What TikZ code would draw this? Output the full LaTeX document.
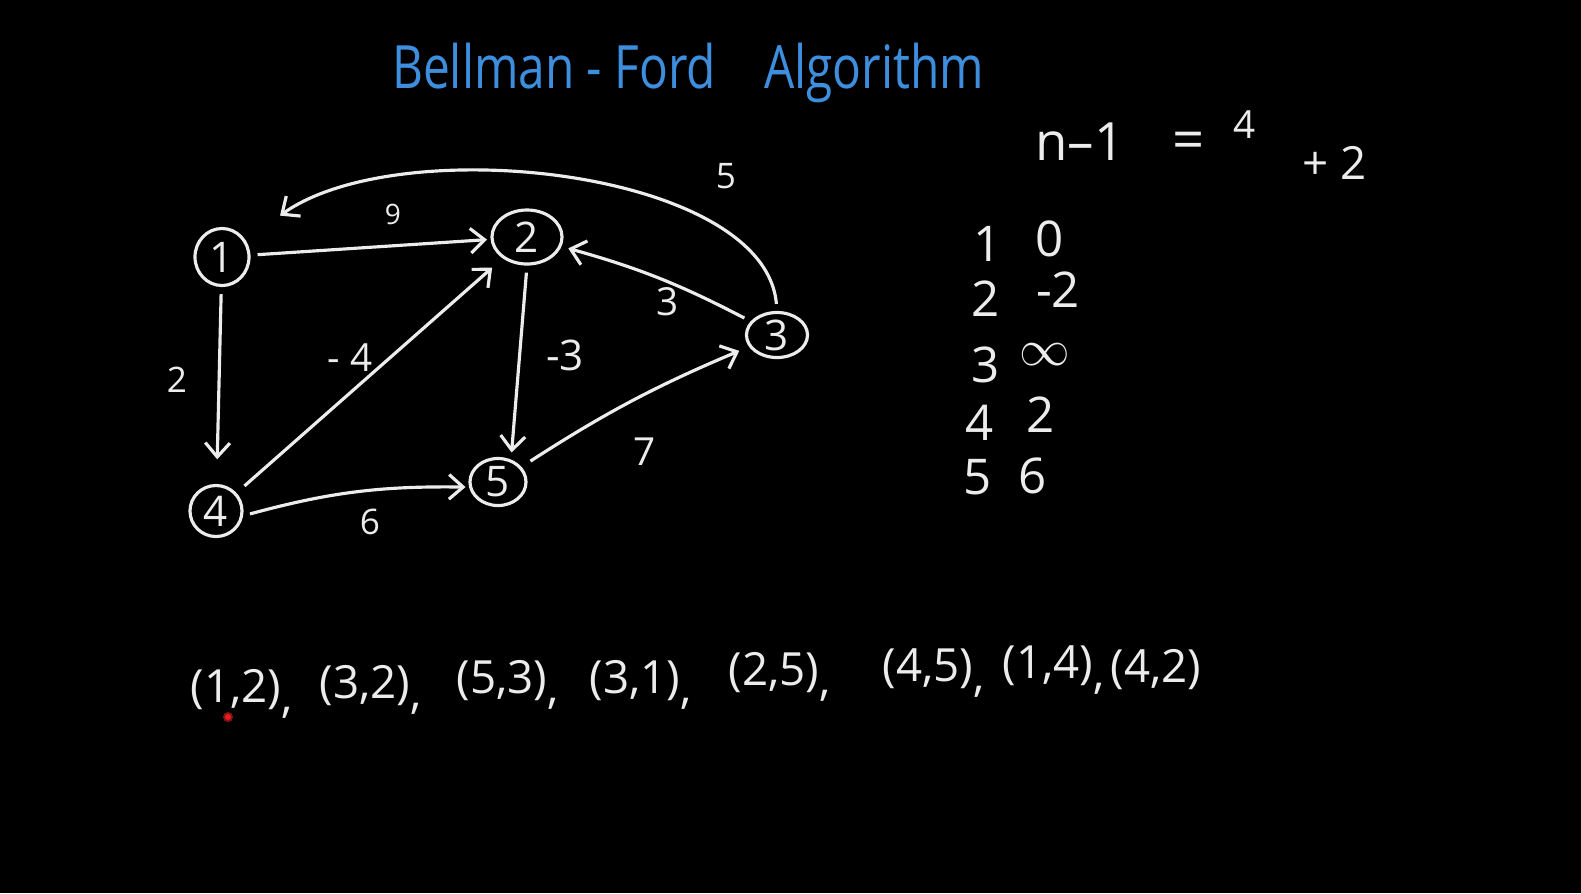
\documentclass[tikz,border=0pt]{standalone}
\usepackage{fontspec}
\usepackage{graphicx}
\setmainfont{Open Sans}
\usetikzlibrary{shapes.geometric,arrows.meta}
\definecolor{chalk}{RGB}{236,236,236}
\definecolor{titleblue}{RGB}{62,142,222}
\definecolor{laser}{RGB}{230,30,30}
\newcommand{\lowcomma}{\raisebox{-3pt}{,}}

\begin{document}
\begin{tikzpicture}[x=0.01cm,y=0.01cm,
  vertex/.style={ellipse, draw=chalk, line width=0.9pt, text=chalk, inner sep=0pt, font=\fontsize{12}{14}\selectfont},
  edge/.style={draw=chalk, line width=0.9pt, -{Straight Barb[length=4pt,width=7pt]}},
  weight/.style={text=chalk, inner sep=1pt},
  entry/.style={text=chalk, inner sep=1pt, font=\fontsize{14}{16}\selectfont},
  pair/.style={text=chalk, inner sep=0pt, anchor=west, font=\fontsize{13}{15}\selectfont}]
% Board
\fill[black] (0,0) rectangle (1581,-893);

% Title
\node[text=titleblue, font=\fontsize{17}{20}\selectfont] (title) at (688,-73) {\scalebox{0.8}[1]{Bellman - Ford\quad Algorithm}};

% Vertices
\node[vertex, minimum width=0.54cm, minimum height=0.57cm] (v1) at (222,-257) {1};
\node[vertex, minimum width=0.70cm, minimum height=0.54cm] (v2) at (527,-237) {2};
\node[vertex, minimum width=0.61cm, minimum height=0.45cm] (v3) at (777,-335) {3};
\node[vertex, minimum width=0.52cm, minimum height=0.51cm] (v4) at (216,-511) {4};
\node[vertex, minimum width=0.56cm, minimum height=0.47cm] (v5) at (498,-482) {5};

% Edges
\draw[edge, shorten <=2pt, shorten >=1pt] (v1) -- (v2);
\draw[edge, shorten <=2pt, shorten >=12pt] (v3.north) .. controls (765,-170) and (400,-130) .. (v1);
\draw[edge, shorten <=2pt, shorten >=7pt] (v1) -- (v4);
\draw[edge, shorten <=3pt, shorten >=4pt] (v4) -- (v2);
\draw[edge, shorten <=2pt, shorten >=2pt] (v2.south) -- (v5.60);
\draw[edge, shorten <=2pt, shorten >=2pt] (v3) to[bend right=6] (v2);
\draw[edge, shorten <=3pt, shorten >=3pt] (v5) to[bend left=5] (v3);
\draw[edge, shorten <=2pt, shorten >=1pt] (v4.-10) to[bend left=8] (v5.190);

% Weights
\node[weight, font=\fontsize{8}{10}\selectfont] (w12) at (393,-214) {9};
\node[weight, font=\fontsize{10}{12}\selectfont] (w31) at (726,-176) {5};
\node[weight, font=\fontsize{10}{12}\selectfont] (w14) at (177,-380) {2};
\node[weight, font=\fontsize{11}{13}\selectfont] (w42) at (350,-358) {- 4};
\node[weight, font=\fontsize{12}{14}\selectfont] (w25) at (565,-355) {-3};
\node[weight, font=\fontsize{11}{13}\selectfont] (w32) at (668,-302) {3};
\node[weight, font=\fontsize{11}{13}\selectfont] (w53) at (645,-452) {7};
\node[weight, font=\fontsize{10}{12}\selectfont] (w45) at (370,-522) {6};

% Passes
\node[text=chalk, font=\fontsize{15}{18}\selectfont] (nminus) at (1080,-142) {n--1};
\node[text=chalk, font=\fontsize{16}{18}\selectfont] (eq) at (1189,-146) {=};
\node[text=chalk, font=\fontsize{11}{13}\selectfont] (four) at (1245,-125) {4};
\node[text=chalk, font=\fontsize{13}{15}\selectfont] (plus) at (1335,-163) {+ 2};

% Distances
\foreach \v/\d/\x/\y/\dx/\dy in {1/0/988/244/1050/239, 2/{-2}/986/299/1058/290, 3/$\infty$/986/365/1045/355, 4/2/980/423/1041/415, 5/6/978/477/1033/476}{
  \node[entry] (k\v) at (\x,-\y) {\v};
  \node[entry] (d\v) at (\dx,-\dy) {\d};
}

% Edge order
\foreach \a/\b/\x/\y/\s [count=\i] in {1/2/190/694/\lowcomma, 3/2/319/690/\lowcomma, 5/3/456/685/\lowcomma, 3/1/589/685/\lowcomma, 2/5/728/677/\lowcomma, 4/5/882/673/\lowcomma, 1/4/1002/670/\lowcomma, 4/2/1110/670/{}}{
  \node[pair] (p\i) at (\x,-\y) {(\a,\b)\s};
}

% Pointer
\fill[laser!60!black] (228,-717) circle (5);
\fill[laser] (228,-717) circle (3);
\end{tikzpicture}
\end{document}
